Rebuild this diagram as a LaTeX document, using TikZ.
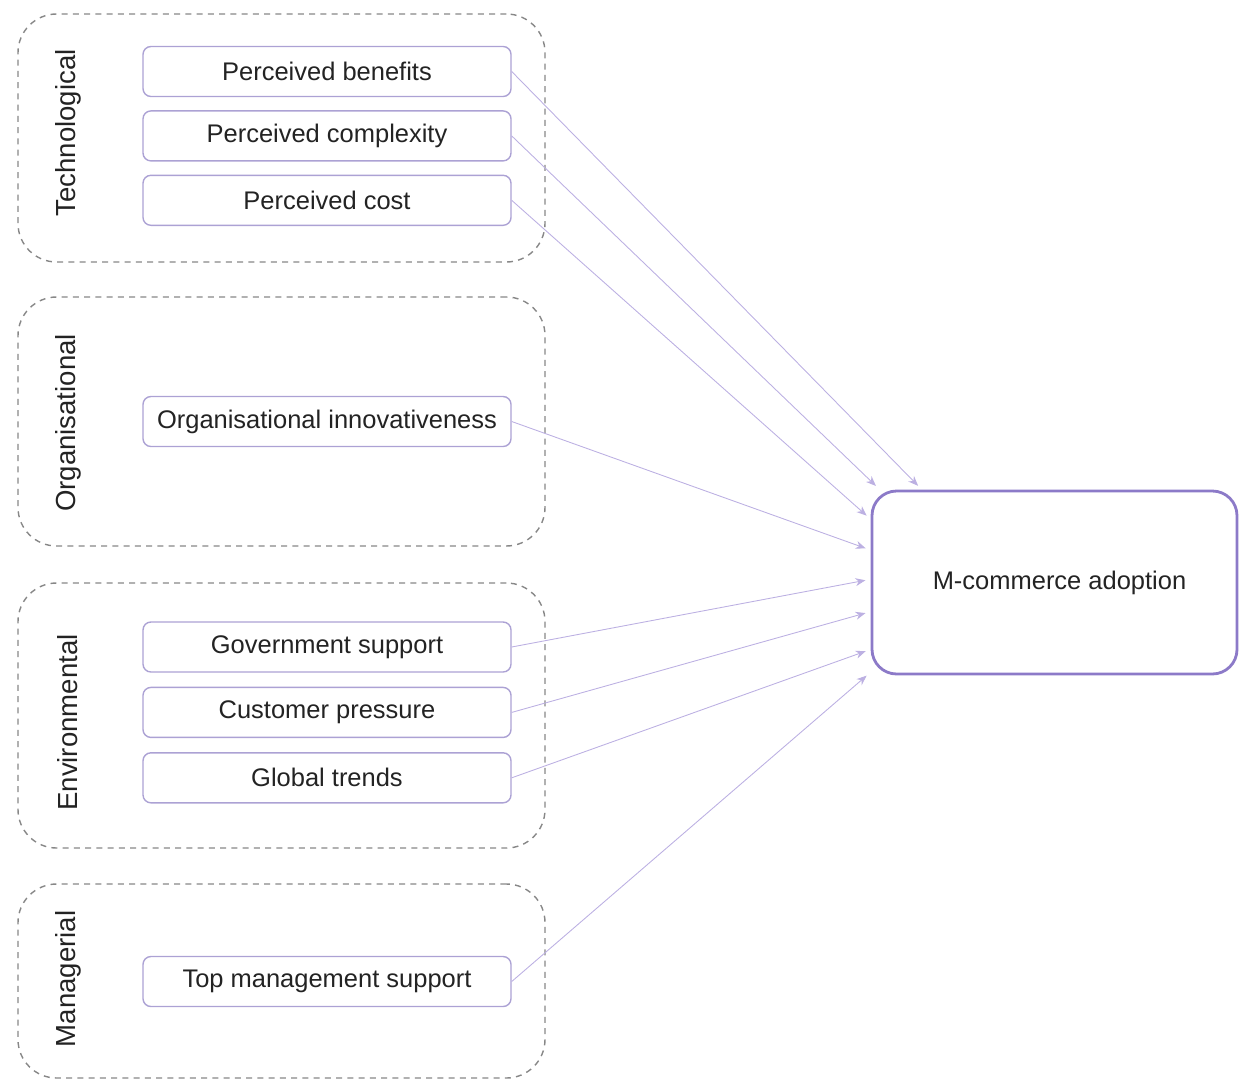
\documentclass[tikz,border=0pt]{standalone}
\usepackage{fontspec}
\setmainfont{Liberation Sans}
\usetikzlibrary{positioning,arrows.meta}

\definecolor{boxline}{RGB}{172,162,212}
\definecolor{adoptline}{RGB}{140,122,200}
\definecolor{linkline}{RGB}{188,176,226}
\definecolor{groupline}{RGB}{135,135,135}
\definecolor{txt}{RGB}{35,35,35}

\begin{document}
\begin{tikzpicture}[
    font=\fontsize{14.5}{17}\selectfont,
    text=txt,
    group/.style={
        rectangle,
        draw=groupline,
        dash pattern=on 3.4pt off 3pt,
        line width=0.8pt,
        rounded corners=22pt,
        minimum width=10.54cm
      },
    grouplabel/.style={rotate=90, font=\fontsize{15.7}{18}\selectfont},
    factor/.style={
        rectangle,
        draw=boxline,
        line width=0.8pt,
        rounded corners=4.5pt,
        minimum width=7.36cm,
        minimum height=1cm,
        align=center
      },
    target/.style={
        rectangle,
        draw=adoptline,
        line width=1.6pt,
        rounded corners=14pt,
        minimum width=7.3cm,
        minimum height=3.66cm
      },
    arrow/.style={-{Stealth[length=2mm,width=1.6mm]}, draw=linkline, line width=0.5pt, shorten >=3pt}
    ]

    \useasboundingbox (0,0) rectangle (24.78,-21.62);

    % the four groups of factors
    \node[group, minimum height=4.96cm] (tech) at (5.63,-2.76) {};
    \node[group, minimum height=4.98cm] (org) at (5.63,-8.43) {};
    \node[group, minimum height=5.3cm] (env) at (5.63,-14.31) {};
    \node[group, minimum height=3.88cm] (man) at (5.63,-19.62) {};

    \node[grouplabel] (techlab) at (1.36,-2.66) {Technological};
    \node[grouplabel] (orglab) at (1.36,-8.46) {Organisational};
    \node[grouplabel] (envlab) at (1.36,-14.45) {Environmental};
    \node[grouplabel] (manlab) at (1.36,-19.58) {Managerial};

    % factors
    \node[factor] (benefits) at (6.54,-1.43) {Perceived benefits};
    \node[factor,below=0.26cm of benefits] (complexity) {Perceived complexity};
    \node[factor,below=0.26cm of complexity] (cost) {Perceived cost};

    \node[factor] (innov) at (6.54,-8.43) {Organisational innovativeness};

    \node[factor] (gov) at (6.54,-12.94) {Government support};
    \node[factor,below=0.28cm of gov] (customer) {Customer pressure};
    \node[factor,below=0.28cm of customer] (trends) {Global trends};

    \node[factor] (topmgmt) at (6.54,-19.63) {Top management support};

    \node[target] (adopt) at (21.09,-11.65) {\hspace{0.2cm}M-commerce adoption};

    \draw[arrow] (benefits.east) -- (adopt.145);
    \draw[arrow] (complexity.east) -- (adopt.152);
    \draw[arrow] (cost.east) -- (adopt.161);
    \draw[arrow] (innov.east) -- (adopt.170);
    \draw[arrow] (gov.east) -- (adopt.179);
    \draw[arrow] (customer.east) -- (adopt.189);
    \draw[arrow] (trends.east) -- (adopt.200);
    \draw[arrow] (topmgmt.east) -- (adopt.206);

  \end{tikzpicture}
\end{document}
